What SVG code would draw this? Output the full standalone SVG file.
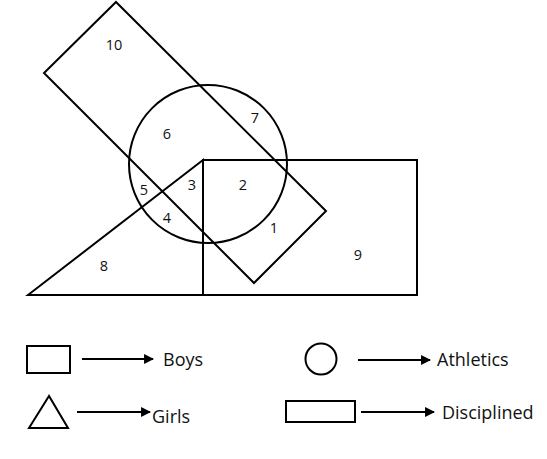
<svg xmlns="http://www.w3.org/2000/svg" width="547" height="459" viewBox="0 0 547 459">
<defs>
<style>
.s{fill:none;stroke:#000;stroke-width:2;stroke-linejoin:miter}
.a{fill:none;stroke:#000;stroke-width:1.8}
.n{font-family:"Open Sans","Liberation Sans",sans-serif;font-size:14.5px;fill:#111;text-anchor:middle}
.l{font-family:"Open Sans","Liberation Sans",sans-serif;font-size:18px;fill:#111}
</style>
<marker id="ah" viewBox="0 0 10 10" refX="9" refY="5" markerWidth="6" markerHeight="5.5" markerUnits="strokeWidth" orient="auto">
<path d="M0,0 L10,5 L0,10 z" fill="#000"/>
</marker>
</defs>
<rect width="547" height="459" fill="#fff"/>
<g id="disciplined"><polygon class="s" points="116,2 326,211 254,283 44,73"/></g>
<g id="athletics"><circle class="s" cx="208" cy="164" r="79"/></g>
<g id="boys"><rect class="s" x="203" y="160" width="214" height="135"/></g>
<g id="girls"><polygon class="s" points="28,295 203,160 203,295"/></g>
<g id="labels">
<text class="n" x="114" y="50">10</text>
<text class="n" x="255" y="123">7</text>
<text class="n" x="167" y="139">6</text>
<text class="n" x="144" y="195">5</text>
<text class="n" x="192" y="190">3</text>
<text class="n" x="243" y="190">2</text>
<text class="n" x="167" y="223">4</text>
<text class="n" x="274" y="233">1</text>
<text class="n" x="358" y="260">9</text>
<text class="n" x="104" y="271">8</text>
</g>
<g id="legend-boys"><rect class="s" x="27" y="346" width="43" height="27"/><text class="l" x="163" y="366">Boys</text></g>
<g id="legend-athletics"><circle class="s" cx="321" cy="359" r="15.5"/><text class="l" x="437" y="366">Athletics</text></g>
<g id="legend-girls"><polygon class="s" points="49,396 29,428 68,428"/><text class="l" x="152" y="423">Girls</text></g>
<g id="legend-disciplined"><rect class="s" x="286" y="401" width="69" height="21"/><text class="l" x="442" y="419">Disciplined</text></g>
<g id="connectors">
<line class="a" x1="82" y1="359" x2="153" y2="359" marker-end="url(#ah)"/>
<line class="a" x1="358" y1="360" x2="430" y2="360" marker-end="url(#ah)"/>
<line class="a" x1="77" y1="412" x2="150" y2="412" marker-end="url(#ah)"/>
<line class="a" x1="361" y1="412" x2="434" y2="412" marker-end="url(#ah)"/>
</g>
</svg>
